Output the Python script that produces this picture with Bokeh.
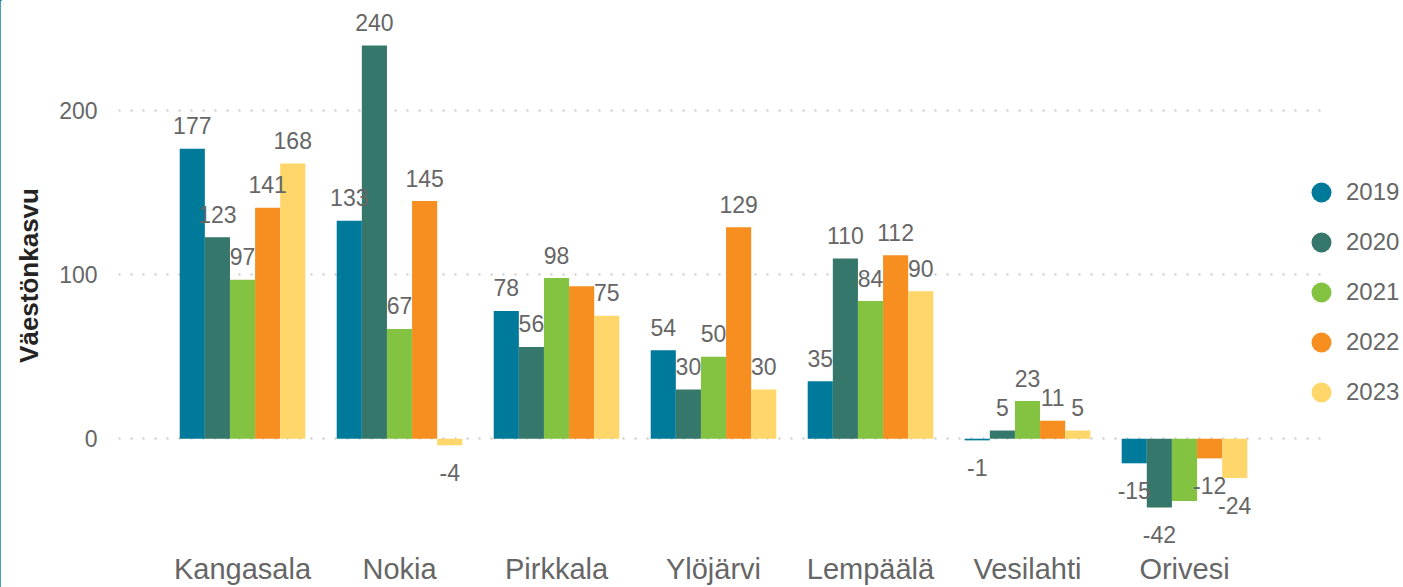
import numpy as np
from bokeh.plotting import figure
from bokeh.models import ColumnDataSource, Range1d, FixedTicker, Legend, LegendItem
from bokeh.embed import file_html
from bokeh.resources import INLINE
from bokeh.core.properties import value

cities = ["Kangasala", "Nokia", "Pirkkala", "Ylöjärvi", "Lempäälä", "Vesilahti", "Orivesi"]
years = ["2019", "2020", "2021", "2022", "2023"]
v2019 = [177, 133, 78, 54, 35, -1, -15]
v2020 = [123, 240, 56, 30, 110, 5, -42]
v2021 = [97, 67, 98, 50, 84, 23, -38]
v2022 = [141, 145, 93, 129, 112, 11, -12]
v2023 = [168, -4, 75, 30, 90, 5, -24]
series = [v2019, v2020, v2021, v2022, v2023]
colors = ["#007a9b", "#36776b", "#83c341", "#f68e20", "#fed669"]
hidden_labels = {("Pirkkala", "2022"), ("Orivesi", "2021")}
y_ticks = [0, 100, 200]

FONT = "Liberation Sans"
BAR_W = 0.16

p = figure(width=1403, height=587, output_backend="svg", toolbar_location=None,
           x_range=Range1d(-0.79, 7.395), y_range=Range1d(-68.2, 267.4),
           min_border_left=118, min_border_right=0, min_border_top=0, min_border_bottom=0)
p.outline_line_color = None
p.background_fill_color = "white"
p.styles = {"box-shadow": "inset 2px 0 0 #0a7ea0"}

idx = np.arange(len(cities))
items = []
sources = []
for j, (yr, vals, col) in enumerate(zip(years, series, colors)):
    xs = idx + (j - 2) * BAR_W
    labels = ["" if (c, yr) in hidden_labels else str(v) for c, v in zip(cities, vals)]
    yoff = [-23 if v >= 0 else 27 for v in vals]
    src = ColumnDataSource(dict(x=xs, top=vals, label=labels, yoff=yoff))
    sources.append(src)
    p.vbar(x="x", top="top", bottom=0, width=BAR_W, source=src,
           fill_color=col, line_color=None)
    lr = p.scatter(x=[np.nan], y=[np.nan], marker="circle", size=20, fill_color=col, line_color=None)
    items.append(LegendItem(label=yr, renderers=[lr]))

# data labels drawn above all bars
for src in sources:
    p.text(x="x", y="top", text="label", source=src, y_offset="yoff",
           text_align="center", text_baseline="alphabetic",
           text_font=value(FONT), text_font_size="23px", text_color="#666666")

legend = Legend(items=items, location=(1178, 133), glyph_width=50, glyph_height=50,
                label_standoff=0, spacing=0, padding=0, margin=0,
                label_text_font=FONT, label_text_font_size="24px", label_text_color="#666666",
                background_fill_alpha=0, border_line_color=None)
p.add_layout(legend, "center")

# axes
xa = p.xaxis[0]
xa.ticker = FixedTicker(ticks=list(idx))
xa.major_label_overrides = {int(i): c for i, c in zip(idx, cities)}
xa.major_label_text_font = FONT
xa.major_label_text_font_size = "29px"
xa.major_label_text_color = "#666666"
xa.major_label_standoff = 2
xa.major_tick_out = 0
xa.major_tick_in = 0
xa.minor_tick_out = 0
xa.minor_tick_in = 0
xa.axis_line_color = None

ya = p.yaxis[0]
ya.ticker = FixedTicker(ticks=y_ticks)
ya.major_label_text_font = FONT
ya.major_label_text_font_size = "23px"
ya.major_label_text_color = "#666666"
ya.major_label_standoff = 21
ya.major_tick_out = 0
ya.major_tick_in = 0
ya.minor_tick_out = 0
ya.minor_tick_in = 0
ya.axis_line_color = None
ya.axis_label = "Väestönkasvu"
ya.axis_label_text_font = FONT
ya.axis_label_text_font_size = "26px"
ya.axis_label_text_font_style = "bold"
ya.axis_label_text_color = "#252423"
ya.axis_label_standoff = 12

p.xgrid.grid_line_color = None
p.ygrid.ticker = FixedTicker(ticks=y_ticks)
p.ygrid.grid_line_color = "#c8c8c8"
p.ygrid.grid_line_width = 2
p.ygrid.grid_line_dash = "2 10"
p.ygrid.cross_bounds = (-0.79, 6.87)

open("out.html", "w").write(file_html(p, INLINE))
